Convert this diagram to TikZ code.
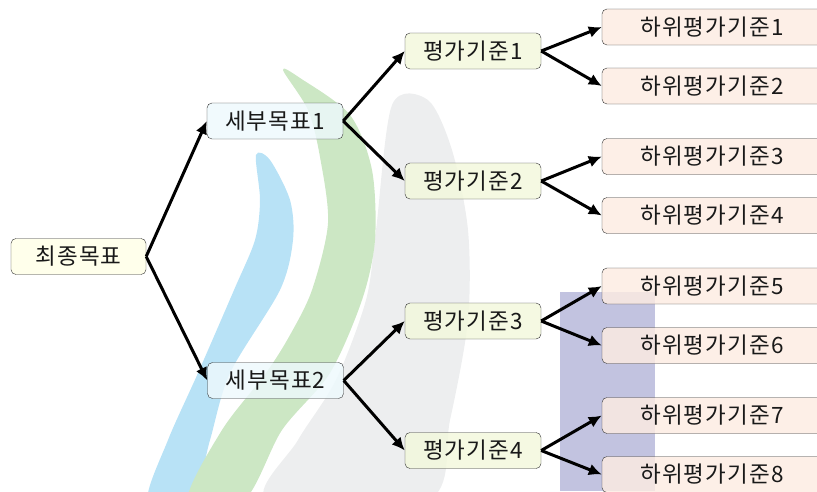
\documentclass[tikz,border=0pt]{standalone}
\usepackage{fontspec}
\newfontfamily\krfont[LetterSpace=5]{Noto Sans CJK KR}
\usetikzlibrary{arrows.meta}

\definecolor{goalfill}{HTML}{FFFFE6}
\definecolor{subfill}{HTML}{EEF9FD}
\definecolor{critfill}{HTML}{F3F8DC}
\definecolor{leaffill}{HTML}{FDECE2}
\definecolor{wmblue}{HTML}{B8E2F6}
\definecolor{wmgreen}{HTML}{CCE7C4}
\definecolor{wmgray}{HTML}{EDEEEF}
\definecolor{wmpurple}{HTML}{C2C3E0}

\tikzset{
    box/.style={draw=black!80, rounded corners=5pt, fill opacity=0.82, text opacity=1,
        minimum height=36pt, inner sep=0pt, text=black!90,
        font=\krfont\fontsize{22.5}{26}\selectfont},
    goalbox/.style={box, fill=goalfill, minimum width=135pt},
    subbox/.style={box, fill=subfill, minimum width=136pt},
    critbox/.style={box, fill=critfill, minimum width=136pt},
    leafbox/.style={box, fill=leaffill, minimum width=220pt},
    link/.style={line width=3pt, -{Latex[length=13pt,width=12pt]}}
}

\begin{document}
\begin{tikzpicture}[x=1pt,y=-1pt]
    \useasboundingbox (0,0) rectangle (817,491);

    % Watermark in the background
    \fill[wmgray] plot[smooth cycle] coordinates {(392,105) (376,230) (366,300) (336,380) (298,440) (268,500)
        (428,500) (450,420) (468,320) (468,230) (452,150) (428,100)};
    \fill[wmblue] plot[smooth cycle] coordinates {(256,155) (260,200) (255,240) (234,290) (198,373) (168,440) (148,500)
        (192,500) (210,440) (230,373) (280,290) (293,240) (290,200) (270,160)};
    \fill[wmgreen] plot[smooth cycle] coordinates {(283,70) (308,110) (320,157) (328,223) (312,290) (290,335) (266,373) (222,430) (188,500)
        (244,500) (282,430) (330,373) (362,300) (375,240) (372,170) (350,115) (300,78)};
    \fill[wmpurple] (560,292) rectangle (655,491);

    % Level 0
    \node[goalbox] (goal) at (78.5,256.5) {최종목표};

    % Level 1
    \node[subbox] (sub1) at (275,121) {세부목표1};
    \node[subbox] (sub2) at (275.5,380.5) {세부목표2};

    % Level 2
    \foreach \i/\y in {1/51, 2/181, 3/321, 4/450.5}
        \node[critbox] (crit\i) at (473,\y) {평가기준\i};

    % Level 3
    \foreach \i/\y in {1/27, 2/86, 3/156.5, 4/215.5, 5/286, 6/345.5, 7/415.5, 8/474.5}
        \node[leafbox] (leaf\i) at (712,\y) {하위평가기준\i};

    % Connectors
    \draw[link] (goal.east) -- (sub1.west);
    \draw[link] (goal.east) -- (sub2.west);
    \draw[link] (sub1.east) -- (crit1.west);
    \draw[link] (sub1.east) -- (crit2.west);
    \draw[link] (sub2.east) -- (crit3.west);
    \draw[link] (sub2.east) -- (crit4.west);
    \foreach \c/\a/\b in {1/1/2, 2/3/4, 3/5/6, 4/7/8} {
        \draw[link] (crit\c.east) -- (leaf\a.west);
        \draw[link] (crit\c.east) -- (leaf\b.west);
    }
\end{tikzpicture}
\end{document}
